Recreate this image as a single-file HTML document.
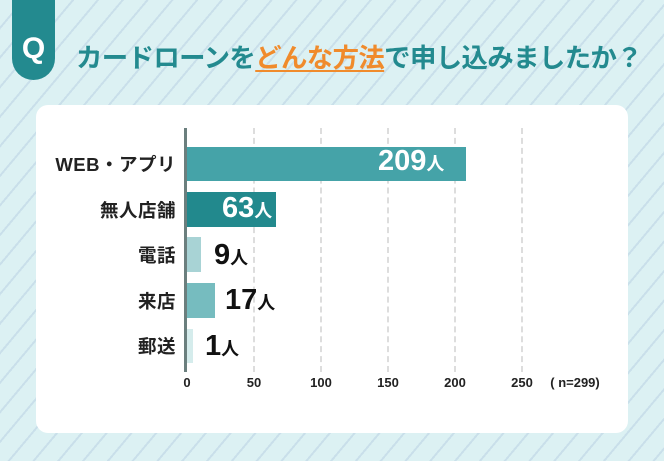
<!DOCTYPE html>
<html><head><meta charset="utf-8"><style>
body{margin:0;width:664px;height:461px;overflow:hidden;position:relative;font-family:"Liberation Sans","Noto Sans CJK JP",sans-serif;
background:#dcf1f3 repeating-linear-gradient(130deg,#dcf1f3 0 17px,#c9dfea 17px 19px);}
.q{position:absolute;left:12px;top:0;width:43px;height:80px;background:#238a8f;border-radius:0 0 22px 22px;color:#fff;font-weight:bold;font-size:30px;text-align:center;line-height:1;}
.q span{position:absolute;left:0;right:0;top:34px;}
.title{position:absolute;left:76px;top:36px;font-size:26.4px;font-weight:bold;color:#238a8f;white-space:nowrap;letter-spacing:-0.6px}
.title .o{color:#f08b2c;text-decoration:underline;text-decoration-thickness:2px;text-underline-offset:3px}
.card{position:absolute;left:36px;top:105px;width:592px;height:328px;background:#fff;border-radius:12px}
.a{position:absolute}
.lab{position:absolute;right:488px;font-size:18.5px;font-weight:bold;color:#222;white-space:nowrap;letter-spacing:0.5px}
.bar{position:absolute;left:187px}
.v{position:absolute;font-weight:bold;font-size:29px;white-space:nowrap}
.v small{font-size:18px}
.grid{position:absolute;top:128px;height:244px;border-left:2px dashed #ddd}
.tk{position:absolute;top:375px;font-size:13px;font-weight:bold;color:#222;transform:translateX(-50%)}
</style></head><body>
<div class="q"><span>Q</span></div>
<div class="title">カードローンを<span class="o">どんな方法</span>で申し込みましたか？</div>
<div class="card"></div>
<div class="grid" style="left:253px"></div>
<div class="grid" style="left:320px"></div>
<div class="grid" style="left:387px"></div>
<div class="grid" style="left:454px"></div>
<div class="grid" style="left:521px"></div>
<div class="bar" style="top:147px;width:279px;height:34px;background:#45a3a8"></div>
<div class="bar" style="top:192px;width:89px;height:35px;background:#22898d"></div>
<div class="bar" style="top:237px;width:14px;height:35px;background:#a8d3d5"></div>
<div class="bar" style="top:283px;width:28px;height:35px;background:#76bcbf"></div>
<div class="bar" style="top:329px;width:6px;height:34px;background:#d5ecec"></div>
<div class="a" style="left:184px;top:128px;width:3px;height:244px;background:#6b7f7e"></div>
<div class="lab" style="top:151px">WEB・アプリ</div>
<div class="lab" style="top:197px">無人店舗</div>
<div class="lab" style="top:242px">電話</div>
<div class="lab" style="top:288px">来店</div>
<div class="lab" style="top:333px">郵送</div>
<div class="v" style="left:378px;top:145px;color:#fff">209<small>人</small></div>
<div class="v" style="left:222px;top:192px;color:#fff">63<small>人</small></div>
<div class="v" style="left:214px;top:239px;color:#111">9<small>人</small></div>
<div class="v" style="left:225px;top:284px;color:#111">17<small>人</small></div>
<div class="v" style="left:205px;top:330px;color:#111">1<small>人</small></div>
<div class="tk" style="left:187px">0</div>
<div class="tk" style="left:254px">50</div>
<div class="tk" style="left:321px">100</div>
<div class="tk" style="left:388px">150</div>
<div class="tk" style="left:455px">200</div>
<div class="tk" style="left:522px">250</div>
<div class="tk" style="left:575px">( n=299)</div>
</body></html>
